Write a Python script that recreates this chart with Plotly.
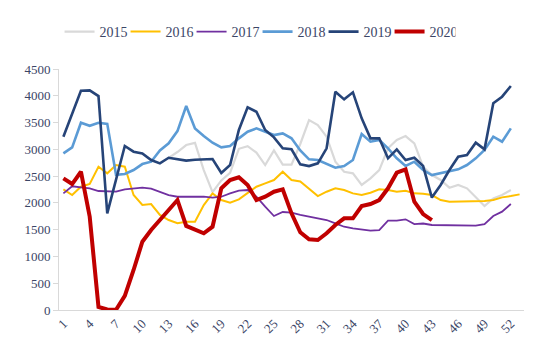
import plotly.graph_objects as go

weeks = list(range(1, 54))

y2015 = [None]*12 + [2840, 2950, 3080, 3120, 2613, 2200, 2420, 2560, 3010, 3060, 2940, 2707,
         2980, 2715, 2715, 3100, 3547, 3454, 3236, 2769, 2582, 2552, 2334, 2458, 2613, 3019,
         3174, 3248, 3112, 2676, 2520, 2427, 2284, 2334, 2272, 2115, 1941, 2085, 2147, 2240]
y2016 = [2253, 2147, 2302, 2352, 2676, 2552, 2707, 2676, 2147, 1960, 1979, 1774, 1680, 1620,
         1649, 1649, 1960, 2178, 2053, 2003, 2066, 2178, 2302, 2365, 2427, 2582, 2427, 2400,
         2272, 2128, 2209, 2272, 2240, 2178, 2147, 2190, 2253, 2240, 2209, 2228, 2178, 2170,
         2147, 2053, 2022, 2022, 2028, 2035, 2035, 2053, 2103, 2128, 2159]
y2017 = [2178, 2310, 2290, 2272, 2222, 2210, 2210, 2253, 2270, 2284, 2265, 2209, 2147, 2115,
         2115, 2115, 2115, 2097, 2115, 2178, 2228, 2240, 2115, 1929, 1755, 1830, 1817, 1774,
         1742, 1712, 1680, 1618, 1555, 1525, 1506, 1481, 1493, 1667, 1667, 1693, 1605, 1615,
         1587, 1587, 1574, 1587, 1574, 1574, 1605, 1755, 1836, 1979]
y2018 = [2925, 3037, 3497, 3440, 3497, 3475, 2525, 2539, 2613, 2725, 2769, 2980, 3112, 3340,
         3809, 3391, 3248, 3124, 3037, 3062, 3205, 3329, 3391, 3329, 3267, 3298, 3205, 2980,
         2813, 2800, 2730, 2657, 2688, 2800, 3286, 3143, 3174, 3019, 2832, 2688, 2769, 2613,
         2520, 2552, 2582, 2627, 2707, 2832, 2987, 3236, 3143, 3391]
y2019 = [3236, 3680, 4094, 4100, 3995, 1805, 2440, 3062, 2956, 2925, 2800, 2738, 2843, 2815,
         2790, 2805, 2819, 2819, 2560, 2707, 3361, 3784, 3702, 3361, 3224, 3019, 3000, 2720,
         2688, 2738, 3019, 4076, 3933, 4064, 3579, 3205, 3205, 2832, 3000, 2800, 2843, 2688,
         2100, 2334, 2613, 2862, 2894, 3124, 3000, 3859, 3983, 4182]
y2020 = [2459, 2352, 2582, 1742, 55, 10, 5, 265, 747, 1275, 1493, 1680, 1860, 2053, 1570,
         1500, 1432, 1555, 2272, 2427, 2477, 2334, 2053, 2115, 2209, 2253, 1805, 1450, 1320,
         1307, 1432, 1587, 1712, 1712, 1941, 1979, 2053, 2272, 2564, 2627, 2022, 1792, 1680]

series = [
    ("2015", y2015, "#d9d9d9", 2.2),
    ("2016", y2016, "#ffc000", 2),
    ("2017", y2017, "#7030a0", 1.8),
    ("2018", y2018, "#5b9bd5", 2.6),
    ("2019", y2019, "#264478", 2.6),
    ("2020", y2020, "#c00000", 4),
]

fig = go.Figure()
for name, vals, color, w in series:
    fig.add_trace(go.Scatter(x=weeks[:len(vals)], y=vals, name=name, mode="lines",
                             line=dict(color=color, width=w)))

font_c = "#3b4566"
fig.update_layout(
    width=550, height=359,
    margin=dict(l=51, r=34, t=61, b=57, autoexpand=False),
    paper_bgcolor="white", plot_bgcolor="white",
    font=dict(family="Liberation Serif", size=13, color=font_c),
    showlegend=True,
    legend=dict(orientation="h", x=0.427, xanchor="center", y=1.1535, yanchor="middle",
                font=dict(size=14, color=font_c), entrywidth=21, entrywidthmode="pixels",
                tracegroupgap=0, bgcolor="rgba(0,0,0,0)"),
    xaxis=dict(range=[0.5, 53.5], tickmode="array", tickvals=list(range(1, 54, 3)),
               tickangle=-45, showgrid=False, zeroline=False, showline=True,
               linecolor="#d9d9d9", linewidth=1, ticks="", tickfont=dict(size=13)),
    yaxis=dict(range=[0, 4500], tickmode="array", tickvals=list(range(0, 4501, 500)),
               showgrid=False, zeroline=False, showline=True, linecolor="#d9d9d9",
               linewidth=1, ticks="outside", ticklen=5, tickcolor="#d9d9d9",
               tickfont=dict(size=13)),
)
fig.write_html("out.html")
